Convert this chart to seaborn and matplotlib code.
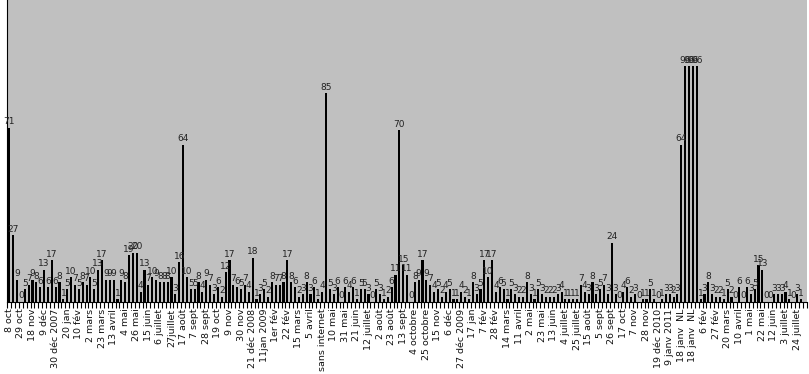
import matplotlib
matplotlib.use('Agg')
import matplotlib.pyplot as plt
import seaborn as sns
import pandas as pd

# nombre de messages par semaine
valeurs = [
    71, 27, 9, 0, 5, 7, 9, 8, 6, 13,
    6, 17, 6, 8, 1, 5, 10, 7, 5, 8,
    7, 10, 5, 13, 17, 9, 9, 9, 1, 9,
    8, 19, 20, 20, 4, 13, 7, 10, 9, 8,
    8, 8, 10, 3, 16, 64, 10, 5, 5, 8,
    4, 9, 7, 3, 6, 2, 12, 17, 7, 6,
    5, 7, 4, 18, 1, 3, 5, 2, 8, 7,
    7, 8, 17, 8, 6, 2, 3, 8, 3, 6,
    1, 4, 85, 5, 3, 6, 0, 6, 4, 6,
    1, 5, 5, 3, 0, 5, 3, 1, 2, 6,
    11, 70, 15, 11, 0, 8, 9, 17, 9, 7,
    4, 5, 2, 4, 5, 1, 1, 4, 2, 1,
    8, 3, 5, 17, 10, 17, 4, 6, 5, 1,
    5, 3, 2, 2, 8, 3, 1, 5, 3, 2,
    2, 2, 3, 4, 1, 1, 1, 1, 7, 4,
    3, 8, 3, 5, 7, 3, 24, 3, 0, 4,
    6, 2, 3, 0, 1, 1, 5, 1, 0, 1,
    3, 3, 2, 3, 64, 96, 96, 96, 96, 1,
    3, 8, 3, 2, 2, 1, 5, 2, 0, 6,
    0, 6, 3, 5, 15, 13, 0, 0, 3, 3,
    3, 4, 1, 0, 3, 1,
]

# étiquettes affichées (une catégorie sur trois)
etiquettes = [
    "8 oct", "29 oct", "18 nov", "9 déc", "30 déc 2007", "20 jan", "10 fév",
    "2 mars", "23 mars", "13 avril", "4 mai", "26 mai", "15 juin", "6 juillet",
    "27juillet", "17 août", "7 sept", "28 sept", "19 oct", "9 nov", "30 nov",
    "21 déc 2008", "11jan 2009", "1er fév", "22 fév", "15 mars", "5 avril",
    "sans internet", "10 mai", "31 mai", "21 juin", "12 juillet", "2 août",
    "23 août", "13 sept", "4 octobre", "25 octobre", "15 nov", "6 déc",
    "27 déc 2009", "17 jan", "7 fév", "28 fév", "14 mars", "11 avril", "2 mai",
    "23 mai", "13 juin", "4 juillet", "25 juillet", "15 août", "5 sept",
    "26 sept", "17 oct", "7 nov", "28 nov", "19 déc 2010", "9 janv 2011",
    "18 janv  NL", "18 janv  NL", "6 fév", "27 fév", "20 mars", "10 avril",
    "1 mai", "22 mai", "12 juin", "3 juillet", "24 juillet",
]
pas_etiquette = 3
nb_categories = len(etiquettes) * pas_etiquette

sns.set_theme(style='white')
plt.rcParams['font.family'] = ['DejaVu Sans']

df = pd.DataFrame({'semaine': range(len(valeurs)), 'n': valeurs})

fig, ax = plt.subplots(figsize=(8.09, 3.74), dpi=100)
fig.subplots_adjust(left=7.4 / 809, right=806.8 / 809,
                    bottom=(374 - 301.7) / 374, top=1.0)

sns.barplot(data=df, x='semaine', y='n', color='black', width=0.55,
            saturation=1, linewidth=0, edgecolor='black', ax=ax)
ax.bar_label(ax.containers[0], labels=[str(v) for v in valeurs],
             fontsize=6.5, color='#222222', padding=1)

ax.set_facecolor('#c0c0c0')
ax.set_ylim(0, 123)
ax.set_xlim(-0.5, nb_categories - 0.5)
ax.set_xlabel('')
ax.set_ylabel('')
ax.set_yticks([])

ax.set_xticks(range(0, nb_categories, pas_etiquette))
ax.set_xticklabels(etiquettes, rotation=90, fontsize=6.8, color='#111111',
                   va='top', ha='center')
ax.set_xticks([i - 0.5 for i in range(nb_categories + 1)], minor=True)
ax.tick_params(axis='x', which='major', length=0, pad=5)
ax.tick_params(axis='x', which='minor', length=4, width=0.8,
               direction='out', color='black', bottom=True)

for cote in ['top', 'right']:
    ax.spines[cote].set_visible(False)
for cote in ['left', 'bottom']:
    ax.spines[cote].set_color('black')
    ax.spines[cote].set_linewidth(0.8)

fig.savefig('out.png', dpi=100)
